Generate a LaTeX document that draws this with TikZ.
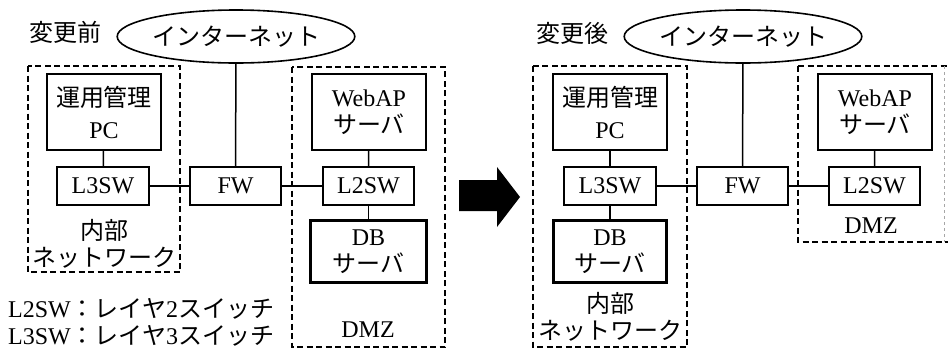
\documentclass[tikz,border=0pt]{standalone}
\usepackage{fontspec}
\setmainfont{Liberation Serif}
\newfontfamily\jp{Noto Sans CJK JP}
\usetikzlibrary{shapes.geometric}
\begin{document}
\begin{tikzpicture}[x=1pt,y=-1pt,
  every node/.style={font=\fontsize{24}{27}\selectfont, inner sep=0pt, align=center},
  dev/.style={draw, line width=1.6pt, minimum width=#1, minimum height=38pt},
  bigbox/.style={draw, line width=1.6pt, minimum width=114pt, minimum height=76pt},
  dbbox/.style={draw, line width=3.2pt, minimum width=#1, minimum height=62pt},
  zone/.style={draw, line width=1.8pt, dash pattern=on 6pt off 3.5pt},
  net/.style={draw, ellipse, line width=1.6pt, minimum width=205pt, minimum height=53pt},
  link/.style={line width=1.5pt}]
\useasboundingbox (0,0) rectangle (948,354);

% ---------- left: before ----------
\node (t1) at (65,32) {\jp 変更前};
\node[net] (inet1) at (236,36.5) {\jp インターネット};
\draw[zone] (28,66) rectangle (180,272);
\draw[zone] (292,67) rectangle (445,347);
\node[bigbox] (pc1) at (104,112) {\jp 運用管理\\[5pt]PC};
\node[dev=92pt] (l31) at (103,186) {L3SW};
\node[dev=91pt] (fw1) at (235.5,186) {FW};
\node[bigbox] (web1) at (369,112) {WebAP\\\jp サーバ};
\node[dev=91pt] (l21) at (368.5,186) {L2SW};
\node[dbbox=116pt] (db1) at (368.5,251.5) {DB\\\jp サーバ};
\node (in1) at (104,244) {\jp 内部\\\jp ネットワーク};
\node (dmz1) at (368,330) {DMZ};
\node[anchor=west] (lg1) at (8,309) {L2SW{\jp ：レイヤ}2{\jp スイッチ}};
\node[anchor=west] (lg2) at (8,336) {L3SW{\jp ：レイヤ}3{\jp スイッチ}};
\draw[link] (inet1) -- (fw1);
\draw[link] (pc1) -- (l31);
\draw[link] (l31) -- (fw1);
\draw[link] (fw1) -- (l21);
\draw[link] (web1) -- (l21);
\draw[link] (l21) -- (db1);

% ---------- arrow ----------
\fill (459,180) -- (497,180) -- (497,167) -- (520,197) -- (497,227) -- (497,211) -- (459,211) -- cycle;

% ---------- right: after ----------
\node (t2) at (572,33) {\jp 変更後};
\node[net] (inet2) at (743,36.5) {\jp インターネット};
\draw[zone] (533,66) rectangle (687,347);
\draw[zone] (798,66) -- (948,66);
\draw[zone] (798,66) -- (798,242) -- (948,242);
\draw[line width=0.8pt, dash pattern=on 3pt off 3pt, black!35] (944,66) -- (944,242);
\node[bigbox] (pc2) at (610,112) {\jp 運用管理\\[5pt]PC};
\node[dev=92pt] (l32) at (610,186) {L3SW};
\node[dbbox=113pt] (db2) at (610,251.5) {DB\\\jp サーバ};
\node[dev=91pt] (fw2) at (742.5,186) {FW};
\node[bigbox] (web2) at (875,112) {WebAP\\\jp サーバ};
\node[dev=91pt] (l22) at (874.5,186) {L2SW};
\node (in2) at (610,317) {\jp 内部\\\jp ネットワーク};
\node (dmz2) at (871,226) {DMZ};
\draw[link] (inet2) -- (fw2);
\draw[link] (pc2) -- (l32);
\draw[link] (l32) -- (db2);
\draw[link] (l32) -- (fw2);
\draw[link] (fw2) -- (l22);
\draw[link] (web2) -- (l22);
\end{tikzpicture}
\end{document}
